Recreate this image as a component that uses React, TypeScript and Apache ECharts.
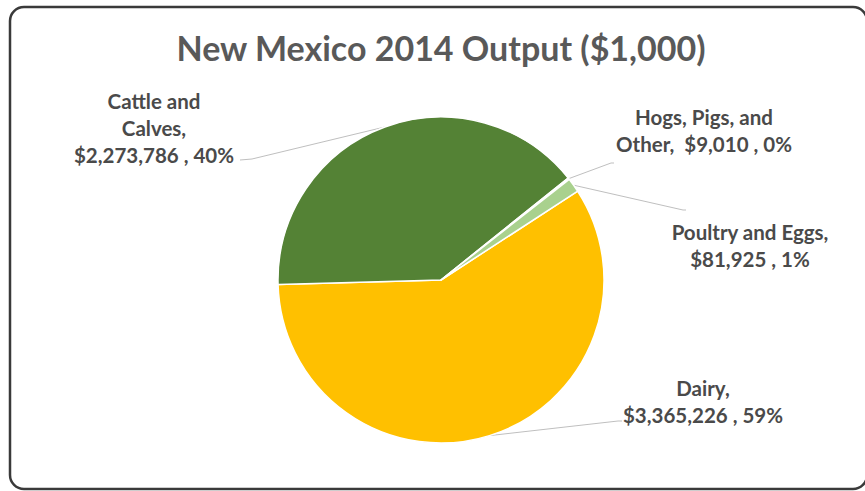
import React, { useEffect, useRef } from "react";
import * as echarts from "echarts";

const titleText = "New Mexico 2014 Output ($1,000)";
const categories = ["Dairy", "Cattle and Calves", "Hogs, Pigs, and Other", "Poultry and Eggs"];
const values = [3365226, 2273786, 9010, 81925];
const colors = ["#FFC000", "#548235", "#A5A5A5", "#A9D18E"];
// how each label's name is wrapped, and what separates name from value
const labelNames = ["Dairy", "Cattle and\nCalves", "Hogs, Pigs, and\nOther", "Poultry and Eggs"];
const labelSeps = ["\n", "\n", "  ", "\n"];
// label block centres and leader-line ends (layout only)
const labelCenters = [
  [703, 401],
  [154, 128],
  [704, 130],
  [750, 245],
];
const lineEnds = [
  [[618, 421], [622, 421]],
  [[252, 159], [240, 160]],
  [[611, 163], [614, 163]],
  [[683, 210], [686, 210]],
];

export default function App() {
  const ref = useRef<HTMLDivElement>(null);
  useEffect(() => {
    if (!ref.current) return;
    const chart = echarts.init(ref.current, null, { renderer: "svg" });
    chart.setOption({
      animation: false,
      backgroundColor: "#ffffff",
      graphic: [
        {
          type: "rect",
          shape: { x: 10, y: 7, width: 857, height: 482, r: 14 },
          style: { fill: "none", stroke: "#3a3a3a", lineWidth: 2.5 },
          z: 10,
        },
        {
          type: "text",
          x: 441,
          y: 47,
          style: {
            text: titleText,
            align: "center",
            verticalAlign: "middle",
            fontFamily: "Lato",
            fontWeight: "bold",
            fontSize: 34,
            fill: "#595959",
          },
        },
      ],
      series: [
        {
          type: "pie",
          center: [441, 280],
          radius: 163,
          startAngle: 33,
          clockwise: true,
          data: categories.map((c, i) => ({
            name: c,
            value: values[i],
            itemStyle: { color: colors[i] },
          })),
          itemStyle: { borderColor: "#ffffff", borderWidth: 1.5 },
          label: {
            show: true,
            position: "outside",
            fontFamily: "Lato",
            fontWeight: "bold",
            fontSize: 20.5,
            lineHeight: 27,
            color: "#4a4a4a",
            align: "center",
            formatter: (p: any) =>
              `${labelNames[p.dataIndex]},${labelSeps[p.dataIndex]}$${Number(p.value).toLocaleString("en-US")} , ${Math.round(p.percent)}%`,
          },
          labelLine: {
            show: true,
            lineStyle: { color: "#BFBFBF", width: 1 },
          },
          labelLayout: (params: any) => {
            const i = params.dataIndex;
            const p0 = params.labelLinePoints ? params.labelLinePoints[0] : [0, 0];
            return {
              x: labelCenters[i][0],
              y: labelCenters[i][1],
              align: "center",
              verticalAlign: "middle",
              labelLinePoints: [p0, lineEnds[i][0], lineEnds[i][1]],
            };
          },
          emphasis: { disabled: true },
        },
      ],
    });
    return () => chart.dispose();
  }, []);
  return (
    <div
      ref={ref}
      style={{ position: "fixed", left: 0, top: 0, width: 865, height: 491 }}
    />
  );
}
